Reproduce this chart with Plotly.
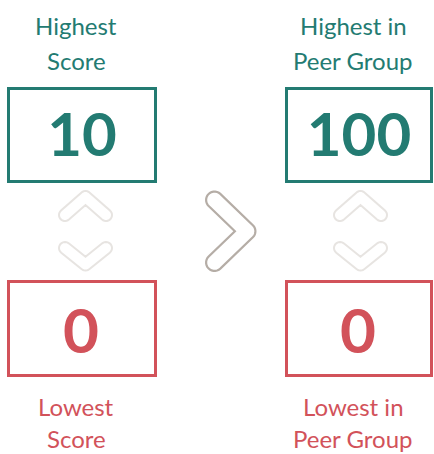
import math
import plotly.graph_objects as go

# ---- data ----
columns = ["Score", "Peer Group"]
high_values = [10, 100]
low_values = [0, 0]
high_labels = [["Highest", "Score"], ["Highest in", "Peer Group"]]
low_labels = [["Lowest", "Score"], ["Lowest in", "Peer Group"]]

TEAL = "#237b72"
RED = "#d2525a"
GRAY = "#b5ada6"
LIGHT = "#e7e4e1"
FONT = "Lato"

W, H = 434, 454
col_x = [82, 359]       # box centres
chev_x = [85.5, 360.5]  # small chevron centres
box_half = [73.5, 72.5]

fig = go.Figure()


def chevron_path(A, B, C, h, n=14):
    def unit(v):
        l = math.hypot(v[0], v[1])
        return (v[0] / l, v[1] / l)
    d1 = unit((B[0] - A[0], B[1] - A[1]))
    d2 = unit((C[0] - B[0], C[1] - B[1]))
    n1 = (-d1[1], d1[0])
    n2 = (-d2[1], d2[0])
    cross = d1[0] * d2[1] - d1[1] * d2[0]
    dot = n1[0] * n2[0] + n1[1] * n2[1]
    m = ((n1[0] + n2[0]) / (1 + dot), (n1[1] + n2[1]) / (1 + dot))

    def arc(P, a0, a1):
        sweep = a1 - a0
        while sweep > 0:
            sweep -= 2 * math.pi
        while sweep <= -2 * math.pi:
            sweep += 2 * math.pi
        return [(P[0] + h * math.cos(a0 + sweep * i / n),
                 P[1] + h * math.sin(a0 + sweep * i / n)) for i in range(n + 1)]

    ang = lambda v: math.atan2(v[1], v[0])
    pts = [(A[0] + h * n1[0], A[1] + h * n1[1])]
    if cross > 0:
        pts.append((B[0] + h * m[0], B[1] + h * m[1]))
    else:
        pts += arc(B, ang(n1), ang(n2))
    pts += arc(C, ang(n2), ang(n2) - math.pi)
    if cross > 0:
        pts += arc(B, ang((-n2[0], -n2[1])), ang((-n1[0], -n1[1])))
    else:
        pts.append((B[0] - h * m[0], B[1] - h * m[1]))
    pts += arc(A, ang((-n1[0], -n1[1])), ang((-n1[0], -n1[1])) - math.pi)
    return "M " + " L ".join(f"{x:.2f},{y:.2f}" for x, y in pts) + " Z"


# boxes
for i in range(len(columns)):
    cx, hw = col_x[i], box_half[i]
    fig.add_shape(type="rect", x0=cx - hw, x1=cx + hw, y0=88.5, y1=181.5,
                  line=dict(color=TEAL, width=3), fillcolor="rgba(0,0,0,0)")
    fig.add_shape(type="rect", x0=cx - hw, x1=cx + hw, y0=281.5, y1=375.5,
                  line=dict(color=RED, width=3), fillcolor="rgba(0,0,0,0)")

# small chevrons
for cx in chev_x:
    up = chevron_path((cx - 20.5, 215), (cx, 197), (cx + 20.5, 215), 6)
    down = chevron_path((cx - 20.5, 248), (cx, 264.5), (cx + 20.5, 248), 6)
    for p in (up, down):
        fig.add_shape(type="path", path=p, fillcolor="white",
                      line=dict(color=LIGHT, width=2))

# big chevron
fig.add_shape(type="path",
              path=chevron_path((214.5, 200), (247, 231.25), (214.5, 262.5), 8.4),
              fillcolor="white", line=dict(color=GRAY, width=2.2))

# numbers
fig.add_trace(go.Scatter(
    x=col_x, y=[141, 141], mode="text",
    text=[str(v) for v in high_values],
    textfont=dict(family=FONT, size=60, color=TEAL, weight="bold"),
    hoverinfo="skip", showlegend=False))
fig.add_trace(go.Scatter(
    x=[c - 1 for c in col_x], y=[337, 337], mode="text",
    text=[str(v) for v in low_values],
    textfont=dict(family=FONT, size=62, color=RED, weight="bold"),
    hoverinfo="skip", showlegend=False))

# labels
top_y = [25, 60]
bot_y = [406.5, 438.5]
for i in range(len(columns)):
    for j, line in enumerate(high_labels[i]):
        fig.add_annotation(x=col_x[i] - 6, y=top_y[j], text=line, showarrow=False,
                           xanchor="center", yanchor="middle", borderpad=0,
                           font=dict(family=FONT, size=24, color=TEAL))
    for j, line in enumerate(low_labels[i]):
        fig.add_annotation(x=col_x[i] - 6, y=bot_y[j], text=line, showarrow=False,
                           xanchor="center", yanchor="middle", borderpad=0,
                           font=dict(family=FONT, size=24, color=RED))

fig.update_layout(
    width=W, height=H, margin=dict(l=0, r=0, t=0, b=0),
    paper_bgcolor="white", plot_bgcolor="white",
    xaxis=dict(range=[0, W], visible=False, fixedrange=True),
    yaxis=dict(range=[H, 0], visible=False, fixedrange=True),
    showlegend=False,
)
fig.write_html("out.html", config={"displayModeBar": False},
               post_script="document.body.style.margin='0';document.body.style.overflow='hidden';")
